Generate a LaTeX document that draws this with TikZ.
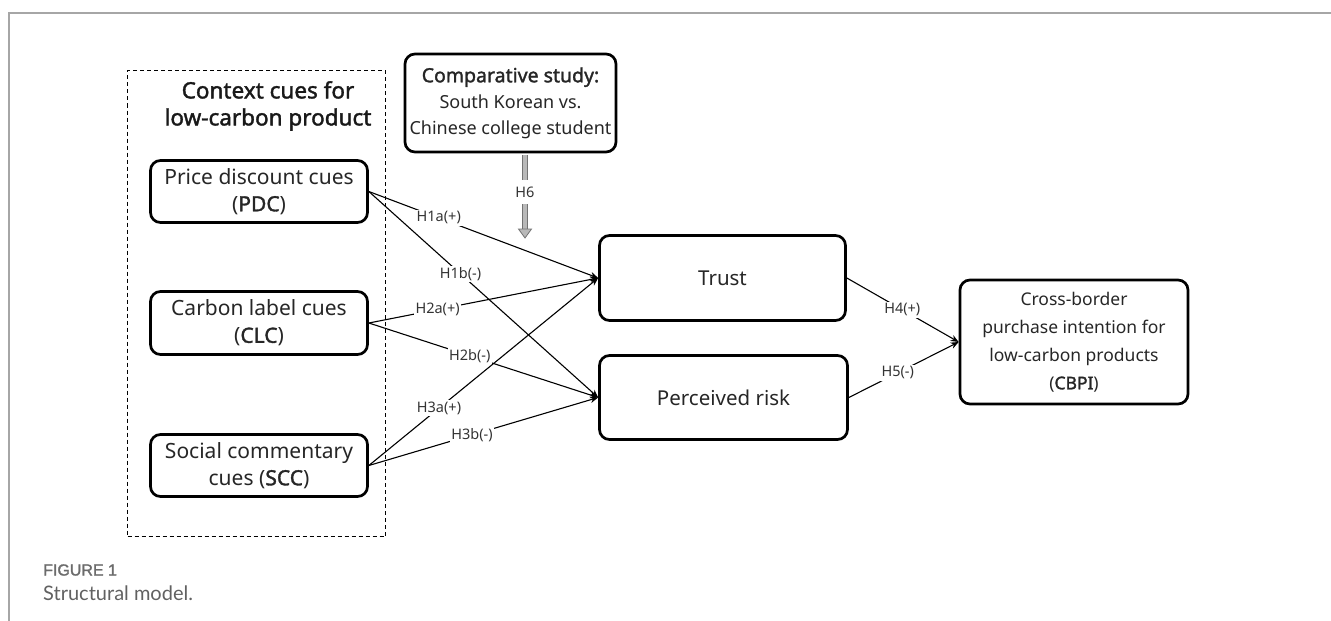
\documentclass[tikz,border=0pt]{standalone}
\usepackage{fontspec}
\setmainfont{Noto Sans}[AutoFakeBold=1.6]
\newfontfamily\capfont{Lato}
\newfontfamily\capboldfont{Liberation Sans}[FakeBold=1.6]
\usetikzlibrary{arrows.meta,calc}
\begin{document}
\begin{tikzpicture}[x=1pt,y=-1pt,
  box/.style={draw=black, line width=2.7pt, rounded corners=10pt, align=center, inner sep=0pt,
    text=black!85, font=\fontsize{21}{27}\selectfont},
  conn/.style={line width=1.1pt, -{Stealth[length=8pt,width=6.5pt]}},
  lab/.style={fill=white, inner sep=1.5pt, text=black!80, font=\fontsize{14.5}{16}\selectfont},
]
\useasboundingbox (0,0) rectangle (1331,621);
% page frame
\draw[black!35, line width=1.2pt] (9,621) -- (9,13) -- (1331,13);

% context cues dashed box
\node[draw, dash pattern=on 4pt off 3pt, line width=1.1pt, minimum width=258pt, minimum height=466pt, inner sep=0pt] (ctx) at (256.5,303.5) {};
\node[align=center, font=\bfseries\fontsize{22.5}{27}\selectfont, text=black!90] (ctxtitle) at (268,106) {Context cues for\\low-carbon product};

% cue boxes
\node[box, minimum width=217pt, minimum height=62pt] (pdc) at (259,191.5) {Price discount cues\\(\textbf{PDC})};
\node[box, minimum width=217pt, minimum height=63pt] (clc) at (259,323) {Carbon label cues\\(\textbf{CLC})};
\node[box, minimum width=217pt, minimum height=62pt] (scc) at (259,465.5) {Social commentary\\cues (\textbf{SCC})};

% comparative study
\node[box, minimum width=211pt, minimum height=98pt, font=\fontsize{18}{26}\selectfont] (comp) at (510.5,103) {{\bfseries\fontsize{19.5}{26}\selectfont Comparative study:}\\South Korean vs.\\Chinese college student};

% mediators and outcome
\node[box, minimum width=246pt, minimum height=85pt, font=\fontsize{20.5}{27}\selectfont] (trust) at (722.5,278) {Trust};
\node[box, minimum width=248pt, minimum height=84pt, font=\fontsize{20.5}{27}\selectfont] (risk) at (723.5,397.5) {Perceived risk};
\node[box, minimum width=228pt, minimum height=124pt, font=\fontsize{17.5}{28}\selectfont] (cbpi) at (1074,342) {Cross-border\\purchase intention for\\low-carbon products\\(\textbf{CBPI})};

% paths
\draw[conn] (pdc.east) -- node[lab,pos=0.305]{H1a(+)} (trust.west);
\draw[conn] (pdc.east) -- node[lab,pos=0.40]{H1b(-)} (risk.west);
\draw[conn] (clc.east) -- node[lab,pos=0.30]{H2a(+)} (trust.west);
\draw[conn] (clc.east) -- node[lab,pos=0.44]{H2b(-)} (risk.west);
\draw[conn] (scc.east) -- node[lab,pos=0.306]{H3a(+)} (trust.west);
\draw[conn] (scc.east) -- node[lab,pos=0.45]{H3b(-)} (risk.west);
\draw[conn] (trust.east) -- node[lab,pos=0.496]{H4(+)} (cbpi.west);
\draw[conn] (risk.east) -- node[lab,pos=0.445]{H5(-)} (cbpi.west);

% H6 moderation arrow
\coordinate (h6tip) at (525,238);
\coordinate (h6base) at (525,229);
\draw[draw=black!55, line width=0.8pt, double=gray!55, double distance=3.5pt]
  ($(comp.south -| h6tip)+(0,1.4)$) -- node[lab, inner ysep=7pt]{H6} (h6base);
\filldraw[fill=gray!55, draw=black!55, line width=0.8pt] (h6tip) -- ++(-6.5,-9) -- ++(13,0) -- cycle;

% caption
\node[anchor=west, inner sep=0pt, font=\capboldfont\fontsize{16}{18}\selectfont, text=black!58] (figlabel) at (43,570) {FIGURE 1};
\node[anchor=west, inner sep=0pt, font=\capfont\fontsize{20}{22}\selectfont, text=black!62] (figcap) at (43,593) {Structural model.};
\end{tikzpicture}
\end{document}
